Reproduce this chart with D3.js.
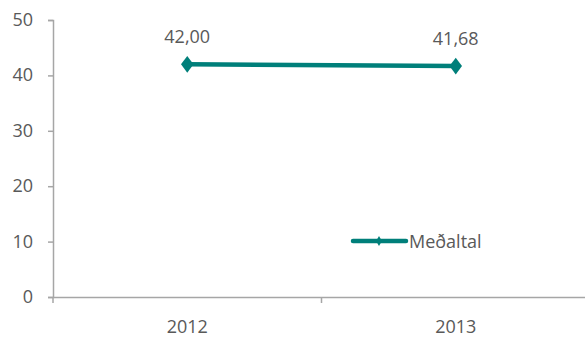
<!DOCTYPE html>
<html><head><meta charset="utf-8">
<script src="https://cdn.jsdelivr.net/npm/d3@7"></script>
<style>body{margin:0;background:#fff}svg{display:block}text{font-family:"Open Sans","DejaVu Sans",sans-serif;fill:#595959}</style>
</head><body><svg id="c" width="585" height="338"></svg>
<script>
const categories = ["2012", "2013"];
const values = [42.00, 41.68];
const valueLabels = ["42,00", "41,68"];
const yTicks = [0, 10, 20, 30, 40, 50];
const seriesName = "Meðaltal";

const svg = d3.select("#c");
const m = {l: 53, t: 20, b: 41};
const W = 585, H = 338;
const x = d3.scaleBand().domain(categories).range([m.l, 590]);
const y = d3.scaleLinear().domain([0, 50]).range([H - m.b, m.t]);
const color = "#007f7a", axisC = "#a6a6a6";
const fs = "18px";

// y axis
const ya = svg.append("g").attr("transform", `translate(${m.l},0)`)
  .call(d3.axisLeft(y).tickValues(yTicks).tickSize(5).tickPadding(15).tickFormat(d3.format("d")));
ya.select(".domain").attr("stroke", axisC).attr("stroke-width", 1.5);
ya.selectAll(".tick line").attr("stroke", axisC).attr("stroke-width", 1.5);
ya.selectAll("text").style("font-size", fs).attr("fill", "#595959").attr("dy", "0.3em");

// x axis
const xa = svg.append("g").attr("transform", `translate(0,${y(0)})`)
  .call(d3.axisBottom(x).tickSize(0).tickPadding(23));
xa.select(".domain").attr("stroke", axisC).attr("stroke-width", 1.5);
xa.selectAll("text").style("font-size", fs).attr("fill", "#595959");
// band boundary ticks
const bounds = [m.l, x(categories[1])];
svg.selectAll(".bt").data(bounds).enter().append("line")
  .attr("x1", d => d).attr("x2", d => d).attr("y1", y(0)).attr("y2", y(0) + 6)
  .attr("stroke", axisC).attr("stroke-width", 1.5);

const cx = d => x(d) + x.bandwidth() / 2;
const line = d3.line().x((d, i) => cx(categories[i])).y(d => y(d));
svg.append("path").datum(values).attr("d", line).attr("fill", "none")
  .attr("stroke", color).attr("stroke-width", 4.5);
const diamond = d3.symbol().type(d3.symbolDiamond).size(80);
svg.selectAll(".pt").data(values).enter().append("path")
  .attr("d", diamond).attr("fill", color)
  .attr("transform", (d, i) => `translate(${cx(categories[i])},${y(d)}) scale(1.3,1)`);
svg.selectAll(".lbl").data(values).enter().append("text")
  .attr("x", (d, i) => cx(categories[i])).attr("y", d => y(d) - 21)
  .attr("text-anchor", "middle").style("font-size", fs).text((d, i) => valueLabels[i]);

// legend
const lg = svg.append("g");
lg.append("line").attr("x1", 353).attr("x2", 406).attr("y1", 241).attr("y2", 241)
  .attr("stroke", color).attr("stroke-width", 4.5).attr("stroke-linecap", "round");
lg.append("path").attr("d", d3.symbol().type(d3.symbolDiamond).size(30)).attr("fill", color)
  .attr("transform", "translate(379,241)");
lg.append("text").attr("x", 409).attr("y", 248).style("font-size", fs).text(seriesName);
</script></body></html>
